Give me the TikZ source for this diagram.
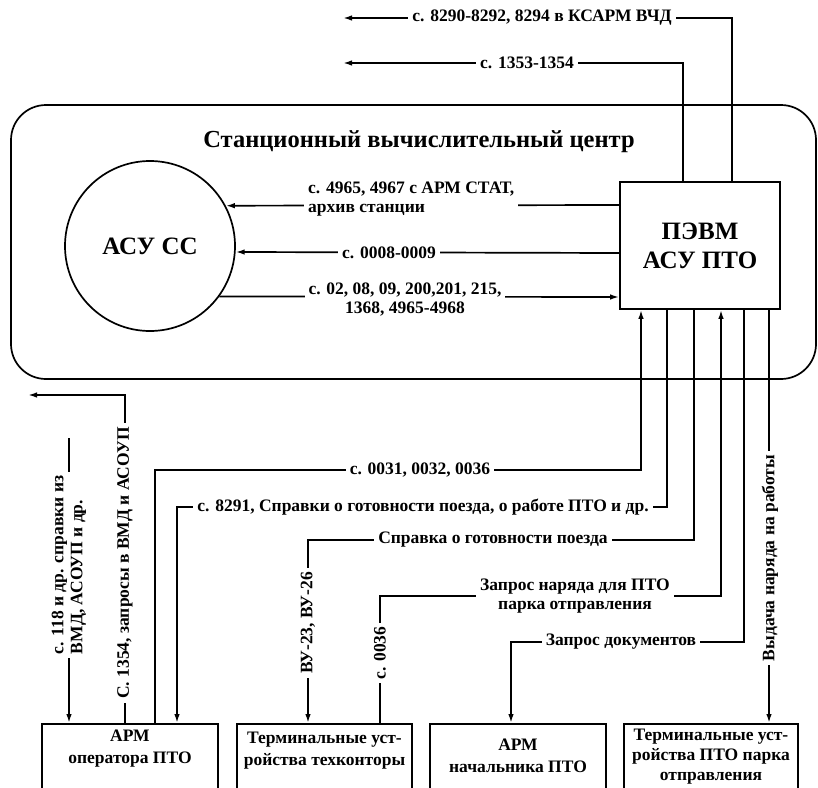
\documentclass[tikz,border=0pt]{standalone}
\usepackage{fontspec}
\setmainfont{Liberation Serif}
\usetikzlibrary{arrows.meta,calc}
\begin{document}
\begin{tikzpicture}[x=1pt,y=-1pt,
  ln/.style={line width=1.7pt},
  arr/.style={line width=1.7pt,-{Latex[length=9pt,width=5.5pt]}},
  lbl/.style={font=\bfseries\fontsize{17.5}{19}\selectfont, fill=white, inner xsep=4pt, inner ysep=1pt},
  big/.style={font=\bfseries\fontsize{25}{29}\selectfont, align=center},
  btxt/.style={font=\bfseries\fontsize{17.5}{22}\selectfont, align=center, inner sep=0pt},
  bbox/.style={draw, ln, minimum width=176pt, minimum height=80pt, anchor=north}
]
\useasboundingbox (0,0) rectangle (818,787);
\clip (0,0) rectangle (818,787);

% station computing centre
\node[draw, ln, rounded corners=35pt, minimum width=805pt, minimum height=274pt] (svc) at (413.5,242) {};
\node[font=\bfseries\fontsize{24.5}{26}\selectfont] (title) at (419,142) {Станционный вычислительный центр};

\node[draw, ln, circle, minimum size=170pt, inner sep=0pt, big] (acs) at (150,246) {АСУ СС};
\node[draw, ln, fill=white, minimum width=160pt, minimum height=127pt, big] (pevm) at (700,245.5) {ПЭВМ\\АСУ ПТО};

% bottom boxes
\node[bbox] (arm1) at (130,723) {};
\node[bbox, minimum width=175pt] (arm2) at (324.5,723) {};
\node[bbox] (arm3) at (518,723) {};
\node[bbox, minimum width=174pt] (arm4) at (711,723) {};
\node[btxt] (arm1t) at (130,749) {АРМ\\оператора ПТО};
\node[btxt] (arm2t) at (324.5,751) {Терминальные уст-\\ройства техконторы};
\node[btxt] (arm3t) at (518,756) {АРМ\\начальника ПТО};
\node[btxt, font=\bfseries\fontsize{17.5}{20}\selectfont] (arm4t) at (711,757) {Терминальные уст-\\ройства ПТО парка\\отправления};

% coordinates
\coordinate (t1) at (343,18);
\coordinate (t2) at (343,63);
\coordinate (xa) at (683,0);
\coordinate (xb) at (732,0);
\coordinate (y205) at (0,205);
\coordinate (y253) at (0,253);
\coordinate (y297) at (0,297);
\coordinate (x1) at (641,0);
\coordinate (x2) at (667,0);
\coordinate (x3) at (694,0);
\coordinate (x4) at (721,0);
\coordinate (x5) at (744,0);
\coordinate (x6) at (769,0);
\coordinate (b1) at (155,470);
\coordinate (b2) at (177,507);
\coordinate (b3) at (308,540);
\coordinate (b4) at (380,596);
\coordinate (b5) at (511,642);
\coordinate (lt) at (28,395);
\coordinate (lx) at (125,0);
\coordinate (ls) at (69,438);

% top connectors
\draw[arr] (pevm.north -| xb) |- (t1);
\draw[arr] (pevm.north -| xa) |- (t2);
% inner connectors
\draw[arr] (pevm.west |- y205) -- (acs.28.8);
\draw[arr] (pevm.west |- y253) -- (acs.-4.7);
\draw[arr] (acs.-36.9) -- (pevm.west |- y297);
% bottom connectors
\draw[arr] (arm1.north -| b1) -- (b1) -- (b1 -| x1) -- (pevm.south -| x1);
\draw[arr] (pevm.south -| x2) -- (x2 |- b2) -- (b2) -- (arm1.north -| b2);
\draw[arr] (pevm.south -| x3) -- (x3 |- b3) -- (b3) -- (arm2.north -| b3);
\draw[arr] (arm2.north -| b4) -- (b4) -- (b4 -| x4) -- (pevm.south -| x4);
\draw[arr] (pevm.south -| x5) -- (x5 |- b5) -- (b5) -- (arm3.north -| b5);
\draw[arr] (pevm.south -| x6) -- (arm4.north -| x6);
% left connectors
\draw[arr] (arm1.north -| lx) |- (lt);
\draw[arr] (ls) -- (arm1.north -| ls);

% labels
\node[lbl] (l1) at (542,18) {с. 8290-8292, 8294 в КСАРМ ВЧД};
\node[lbl] (l2) at (527,63) {с. 1353-1354};
\node[lbl, align=left, anchor=west] (a1l) at (304,199) {с. 4965, 4967 с АРМ СТАТ,\\архив станции};
\node[lbl] (a2l) at (389,253) {с. 0008-0009};
\node[lbl, align=center] (a3l) at (405,300) {с. 02, 08, 09, 200,201, 215,\\1368, 4965-4968};
\node[lbl] (c1l) at (420,470) {с. 0031, 0032, 0036};
\node[lbl] (c2l) at (423,507) {с. 8291, Справки о готовности поезда, о работе ПТО и др.};
\node[lbl] (c3l) at (493,540) {Справка о готовности поезда};
\node[lbl, align=center] (c4l) at (575,596) {Запрос наряда для ПТО\\парка отправления};
\node[lbl] (c5l) at (621,642) {Запрос документов};
\node[lbl, rotate=90] (c3v) at (308,623) {ВУ-23, ВУ-26};
\node[lbl, rotate=90] (c4v) at (380,653) {с. 0036};
\node[lbl, rotate=90] (c6v) at (770,558) {Выдача наряда на работы};
\node[lbl, rotate=90] (v1) at (125,563) {С. 1354, запросы в ВМД и АСОУП};
\node[lbl, rotate=90, align=left] (v2) at (69,565) {с. 118 и др. справки из\\ВМД, АСОУП и др.};
\end{tikzpicture}
\end{document}
